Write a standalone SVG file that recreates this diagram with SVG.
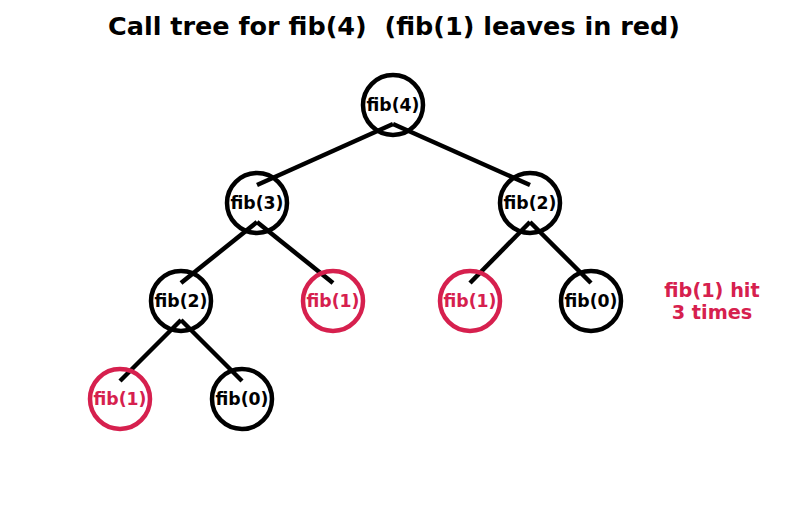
<svg xmlns="http://www.w3.org/2000/svg" width="787" height="512" viewBox="0 0 787 512">
<style>
text{font-family:"DejaVu Sans",sans-serif;font-weight:bold;text-anchor:middle}
.title{font-size:25.5px;fill:#000;white-space:pre}
.lbl{font-size:17.3px;dominant-baseline:central}
.blk{fill:#000}
.red{fill:#d6204e}
.node{fill:none;stroke-width:4.5}
.nb{stroke:#000}
.nr{stroke:#d6204e}
.edge{stroke:#000;stroke-width:4.5;fill:none}
.note{font-size:19.3px;fill:#d6204e}
</style>
<rect width="787" height="512" fill="#fff"/>
<text class="title" x="394" y="35" xml:space="preserve">Call tree for fib(4)  (fib(1) leaves in red)</text>
<g id="connectors">
<line class="edge" x1="393" y1="124" x2="257" y2="185"/>
<line class="edge" x1="393" y1="124" x2="530" y2="185"/>
<line class="edge" x1="257" y1="222" x2="181" y2="283"/>
<line class="edge" x1="257" y1="222" x2="333" y2="283"/>
<line class="edge" x1="530" y1="222" x2="470" y2="283"/>
<line class="edge" x1="530" y1="222" x2="591" y2="283"/>
<line class="edge" x1="181" y1="320" x2="120" y2="381"/>
<line class="edge" x1="181" y1="320" x2="242" y2="381"/>
</g>
<g id="n_fib4"><circle class="node nb" cx="393" cy="105" r="30"/><text class="lbl blk" x="393" y="105">fib(4)</text></g>
<g id="n_fib3"><circle class="node nb" cx="257" cy="203" r="30"/><text class="lbl blk" x="257" y="203">fib(3)</text></g>
<g id="n_fib2a"><circle class="node nb" cx="530" cy="203" r="30"/><text class="lbl blk" x="530" y="203">fib(2)</text></g>
<g id="n_fib2b"><circle class="node nb" cx="181" cy="301" r="30"/><text class="lbl blk" x="181" y="301">fib(2)</text></g>
<g id="n_fib1a"><circle class="node nr" cx="333" cy="301" r="30"/><text class="lbl red" x="333" y="301">fib(1)</text></g>
<g id="n_fib1b"><circle class="node nr" cx="470" cy="301" r="30"/><text class="lbl red" x="470" y="301">fib(1)</text></g>
<g id="n_fib0a"><circle class="node nb" cx="591" cy="301" r="30"/><text class="lbl blk" x="591" y="301">fib(0)</text></g>
<g id="n_fib1c"><circle class="node nr" cx="120" cy="399" r="30"/><text class="lbl red" x="120" y="399">fib(1)</text></g>
<g id="n_fib0b"><circle class="node nb" cx="242" cy="399" r="30"/><text class="lbl blk" x="242" y="399">fib(0)</text></g>
<text class="note" x="712" y="297">fib(1) hit</text>
<text class="note" x="712" y="319">3 times</text>
</svg>
